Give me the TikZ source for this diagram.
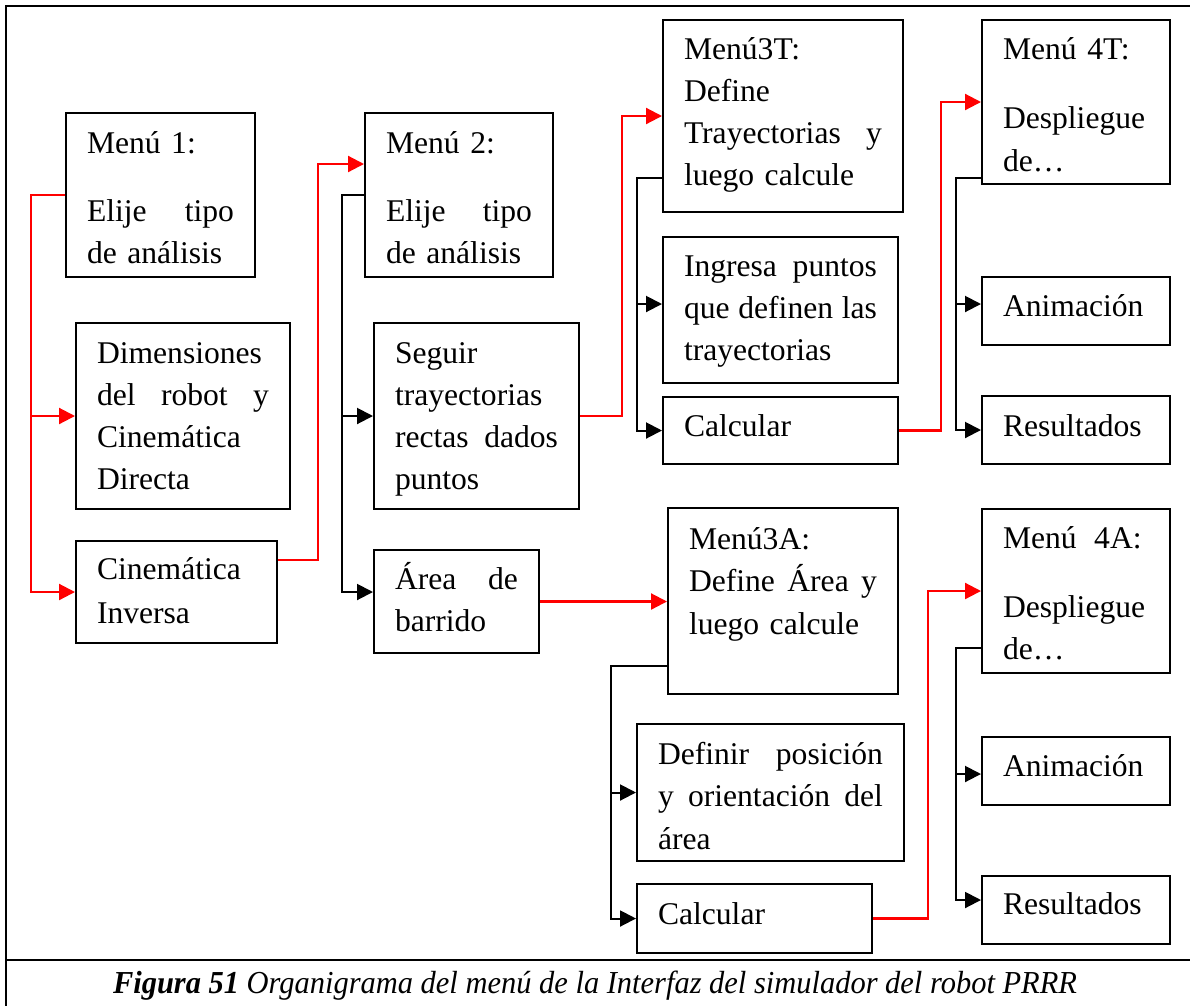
\documentclass[tikz,border=0pt]{standalone}
\usepackage{fontspec}
\usepackage{graphicx}
\setmainfont{Liberation Serif}
\usetikzlibrary{arrows.meta}
\begin{document}
\begin{tikzpicture}[x=1pt,y=-1pt,
  bx/.style={draw, line width=2pt, anchor=north west, inner xsep=21pt, inner ysep=0pt,
    font=\fontsize{31.6}{42}\selectfont},
  rl/.style={draw=red, line width=2.2pt, -{Triangle[length=16pt,width=16pt]}},
  bl/.style={draw=black, line width=2pt, -{Triangle[length=16pt,width=16pt]}},
  frame/.style={draw=black, line width=2.5pt}]
\useasboundingbox (0,0) rectangle (1190,1005);
% frame
\draw[frame] (6,1010) -- (6,6) -- (1195,6);
\draw[frame] (6,960) -- (1195,960);
% column 1
\node[bx, text width=147pt, text height=40pt, text depth=124pt] (m1) at (65,112)
  {Menú 1:\\[26pt]Elije\hfill tipo\\de análisis};
\node[bx, text width=172pt, text height=40pt, text depth=146pt] (dim) at (75,322)
  {Dimensiones\\del\hfill robot\hfill y\\Cinemática\\Directa};
\node[bx, text width=159pt, text height=38pt, text depth=64pt] (ci) at (75,540)
  {Cinemática\\[2pt]Inversa};
% column 2
\node[bx, text width=146pt, text height=40pt, text depth=124pt] (m2) at (364,112)
  {Menú 2:\\[26pt]Elije\hfill tipo\\de análisis};
\node[bx, text width=163pt, text height=40pt, text depth=146pt] (seg) at (373,322)
  {Seguir\\trayectorias\\rectas\hfill dados\\puntos};
\node[bx, text width=123pt, text height=39pt, text depth=64pt] (area) at (373,549)
  {Área\hfill de\\barrido};
% column 3 (T)
\node[bx, text width=198pt, text height=39pt, text depth=153pt] (m3t) at (662,19)
  {Menú3T:\\Define\\Trayectorias\hfill y\\luego calcule};
\node[bx, text width=193pt, text height=39pt, text depth=107pt] (ing) at (662,236)
  {Ingresa\hfill puntos\\que\hfill definen\hfill las\\trayectorias};
\node[bx, text width=193pt, text height=39pt, text depth=28pt] (calcT) at (662,396)
  {Calcular};
% column 4 (T)
\node[bx, text width=146pt, text height=39pt, text depth=125pt] (m4t) at (981,19)
  {Menú 4T:\\[27pt]Despliegue\\[1pt]de…};
\node[bx, text width=146pt, text height=39pt, text depth=29pt] (animT) at (981,276)
  {Animación};
\node[bx, text width=146pt, text height=40pt, text depth=28pt] (resT) at (981,395)
  {Resultados};
% column 3 (A)
\node[bx, text width=188pt, text height=41pt, text depth=145pt] (m3a) at (667,507)
  {Menú3A:\\Define\hfill Área\hfill y\\[1pt]luego calcule};
\node[bx, text width=225pt, text height=40pt, text depth=97pt] (def) at (636,723)
  {Definir\hfill posición\\y\hfill orientación\hfill del\\[1pt]área};
\node[bx, text width=193pt, text height=40pt, text depth=29pt] (calcA) at (636,883)
  {Calcular};
% column 4 (A)
\node[bx, text width=146pt, text height=39pt, text depth=125pt] (m4a) at (981,508)
  {Menú\hspace{7pt} 4A:\\[27pt]Despliegue\\de…};
\node[bx, text width=146pt, text height=39pt, text depth=29pt] (animA) at (981,736)
  {Animación};
\node[bx, text width=146pt, text height=38pt, text depth=30pt] (resA) at (981,875)
  {Resultados};
% connectors
\draw[rl] (m1.west) -- ++(-34,0) |- (dim.west);
\draw[rl] (m1.west) -- ++(-34,0) |- (ci.west);
\draw[rl] ([yshift=32pt]ci.east) -- ++(40,0) |- ([yshift=31pt]m2.west);
\draw[bl] (m2.west) -- ++(-22,0) |- (seg.west);
\draw[bl] (m2.west) -- ++(-22,0) |- ([yshift=9.5pt]area.west);
\draw[rl] (seg.east) -- ++(42,0) |- (m3t.west);
\draw[rl] (area.east) -- (area.east -| m3a.west);
\draw[bl] ([yshift=-62pt]m3t.west) -- ++(-25,0) |- ([yshift=6pt]ing.west);
\draw[bl] ([yshift=-62pt]m3t.west) -- ++(-25,0) |- (calcT.west);
\draw[rl] (calcT.east) -- ++(42,0) |- (m4t.west);
\draw[bl] ([yshift=-76pt]m4t.west) -- ++(-25,0) |- ([yshift=7pt]animT.west);
\draw[bl] ([yshift=-76pt]m4t.west) -- ++(-25,0) |- (resT.west);
\draw[bl] ([yshift=-65pt]m3a.west) -- ++(-56,0) |- (def.west);
\draw[bl] ([yshift=-65pt]m3a.west) -- ++(-56,0) |- (calcA.west);
\draw[rl] (calcA.east) -- ++(55,0) |- (m4a.west);
\draw[bl] ([yshift=-57pt]m4a.west) -- ++(-25,0) |- ([yshift=-3pt]animA.west);
\draw[bl] ([yshift=-57pt]m4a.west) -- ++(-25,0) |- ([yshift=10pt]resA.west);
% caption
\node[anchor=base, inner sep=0pt] (cap) at (595,993)
  {\resizebox{964pt}{\height}{\fontsize{32}{38}\selectfont\textbf{\textit{Figura 51}} \textit{Organigrama del menú de la Interfaz del simulador del robot PRRR}}};
\end{tikzpicture}
\end{document}
